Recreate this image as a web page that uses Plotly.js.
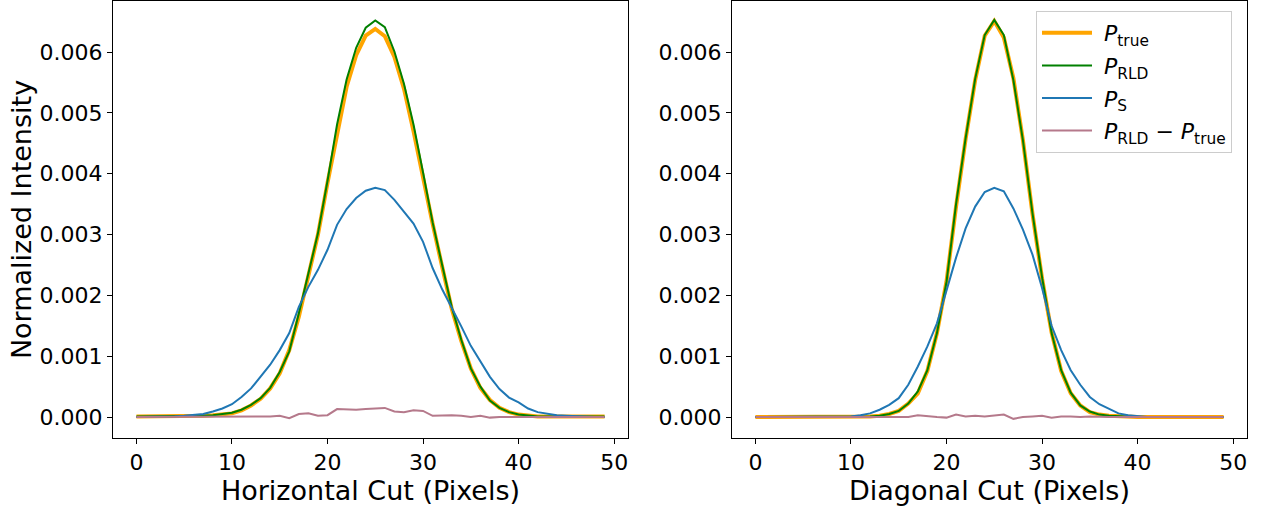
<!DOCTYPE html>
<html>
<head>
<meta charset="utf-8">
<script src="https://cdn.plot.ly/plotly-3.0.1.min.js"></script>
<style>html,body{margin:0;padding:0;background:#fff;}#chart{width:1264px;height:506px;}</style>
</head>
<body>
<div id="chart"></div>
<script>
// pixel index along each cut
const pixels = Array.from({length: 50}, (_, i) => i);

// Horizontal cut
const hTrue = [0.00001,0.00001,0.00001,0.00001,0.00001,0.00001,0.00001,0.00002,0.00003,0.00004,
  0.00006,0.00011,0.00019,0.00030,0.00047,0.00072,0.00110,0.00165,0.00232,0.00300,
  0.00385,0.00468,0.00543,0.00595,0.00627,0.00638,0.00626,0.00592,0.00540,0.00470,
  0.00392,0.00318,0.00247,0.00178,0.00125,0.00080,0.00048,0.00028,0.00015,0.00008,
  0.00004,0.00002,0.00001,0.00001,0.00001,0.00001,0.00001,0.00001,0.00001,0.00001];
const hRLD = [0.00001,0.00001,0.00001,0.00001,0.00001,0.00001,0.00001,0.00002,0.00003,0.00005,
  0.00007,0.00012,0.00020,0.00031,0.00048,0.00074,0.00108,0.00170,0.00238,0.00302,
  0.00388,0.00481,0.00555,0.00607,0.00640,0.00652,0.00641,0.00601,0.00548,0.00481,
  0.00402,0.00320,0.00250,0.00181,0.00127,0.00080,0.00050,0.00027,0.00015,0.00008,
  0.00004,0.00002,0.00001,0.00001,0.00001,0.00001,0.00001,0.00001,0.00001,0.00001];
const hS = [0.00000,0.00000,0.00000,0.00001,0.00001,0.00002,0.00003,0.00005,0.00009,0.00014,
  0.00021,0.00033,0.00047,0.00066,0.00086,0.00110,0.00138,0.00181,0.00214,0.00242,
  0.00275,0.00316,0.00342,0.00360,0.00372,0.00377,0.00373,0.00357,0.00338,0.00318,
  0.00288,0.00245,0.00210,0.00180,0.00149,0.00117,0.00091,0.00066,0.00046,0.00032,
  0.00024,0.00014,0.00008,0.00005,0.00003,0.00002,0.00001,0.00001,0.00000,0.00000];
const hDiff = [0,0,0,0,0,0,0,0,0,0.00001,
  0.00001,0.00001,0.00001,0.00001,0.00001,0.00002,-0.00002,0.00005,0.00006,0.00002,
  0.00003,0.00013,0.00012,0.00012,0.00013,0.00014,0.00015,0.00009,0.00008,0.00011,
  0.00010,0.00002,0.00003,0.00003,0.00002,0.00000,0.00002,-0.00001,0.00000,0.00000,
  0.00000,0.00000,0.00000,0.00000,0.00000,0.00000,0.00000,0.00000,0.00000,0.00000];

// Diagonal cut
const dRLD = [0,0,0,0,0,0,0,0,0,0,
  0.00000,0.00000,0.00001,0.00002,0.00005,0.00010,0.00022,0.00042,0.00077,0.00138,
  0.00222,0.00350,0.00458,0.00556,0.00628,0.00653,0.00628,0.00554,0.00455,0.00335,
  0.00230,0.00138,0.00077,0.00040,0.00019,0.00009,0.00004,0.00002,0.00001,0.00000,
  0,0,0,0,0,0,0,0,0,0];
const dDiff = [0,0,0,0,0,0,0,0,0,0,
  0,0,0,0,0,0,0.00000,0.00003,0.00001,0.00000,
  -0.00001,0.00004,0.00001,0.00002,0.00001,0.00002,0.00004,-0.00003,0.00000,0.00001,
  0.00002,-0.00001,0.00001,0.00001,0.00000,0.00001,0.00000,0,0,0,
  0,0,0,0,0,0,0,0,0,0];
const dTrue = [0,0,0,0,0,0,0,0,0,0,
  0.00000,0.00000,0.00001,0.00002,0.00005,0.00010,0.00022,0.00039,0.00076,0.00138,
  0.00223,0.00346,0.00457,0.00554,0.00627,0.00651,0.00624,0.00557,0.00455,0.00334,
  0.00228,0.00139,0.00076,0.00039,0.00019,0.00008,0.00004,0.00002,0.00001,0.00000,
  0,0,0,0,0,0,0,0,0,0];
const dS = [0,0,0,0,0,0,0,0,0,0.00001,
  0.00001,0.00003,0.00006,0.00012,0.00020,0.00031,0.00053,0.00083,0.00116,0.00154,
  0.00210,0.00262,0.00310,0.00346,0.00370,0.00377,0.00371,0.00343,0.00308,0.00267,
  0.00212,0.00150,0.00110,0.00077,0.00053,0.00033,0.00021,0.00013,0.00006,0.00003,
  0.00001,0,0,0,0,0,0,0,0,0];

const names = ['\u00a0<i>P</i><sub>true</sub>', '\u00a0<i>P</i><sub>RLD</sub>', '\u00a0<i>P</i><sub>S</sub>',
  '\u00a0<i>P</i><sub>RLD</sub> \u2212 <i>P</i><sub>true</sub>'];
const colors = ['#ffa500', '#008000', '#1f77b4', '#b5798b'];
const widths = [4, 2, 2, 2];

function mk(y, k, xa, ya, show) {
  return {x: pixels, y: y, type: 'scatter', mode: 'lines', xaxis: xa, yaxis: ya,
    name: names[k], showlegend: show, legendgroup: 'g' + k,
    line: {color: colors[k], width: widths[k]}};
}

const data = [
  mk(hTrue, 0, 'x', 'y', false), mk(hRLD, 1, 'x', 'y', false), mk(hS, 2, 'x', 'y', false), mk(hDiff, 3, 'x', 'y', false),
  mk(dTrue, 0, 'x2', 'y2', true), mk(dRLD, 1, 'x2', 'y2', true), mk(dS, 2, 'x2', 'y2', true), mk(dDiff, 3, 'x2', 'y2', true)
];

const fontFam = 'DejaVu Sans, sans-serif';
const xTicks = [0, 10, 20, 30, 40, 50];
const yTicks = [0, 0.001, 0.002, 0.003, 0.004, 0.005, 0.006];

function xax(domain, title) {
  return {domain: domain, range: [-2.45, 51.45], showgrid: false, zeroline: false,
    showline: true, mirror: true, linecolor: '#000', linewidth: 1,
    ticks: 'outside', ticklen: 5, tickcolor: '#000', tickvals: xTicks,
    tickfont: {family: fontFam, size: 22, color: '#000'},
    title: {text: title, font: {family: fontFam, size: 27, color: '#000'}, standoff: 0}};
}
function yax(domain, anchor, title) {
  return {domain: domain, anchor: anchor, range: [-0.000345, 0.00684], showgrid: false, zeroline: false,
    showline: true, mirror: true, linecolor: '#000', linewidth: 1,
    ticks: 'outside', ticklen: 5, tickcolor: '#000', tickvals: yTicks, tickformat: '.3f',
    tickfont: {family: fontFam, size: 22, color: '#000'},
    title: {text: title, font: {family: fontFam, size: 27, color: '#000'}, standoff: 0}};
}

const yd = [68/506, 505/506];
const layout = {
  width: 1264, height: 506,
  margin: {l: 0, r: 0, t: 0, b: 0},
  paper_bgcolor: '#fff', plot_bgcolor: '#fff',
  font: {family: fontFam, color: '#000'},
  xaxis: Object.assign(xax([113/1264, 628/1264], 'Horizontal Cut (Pixels)'), {anchor: 'y'}),
  yaxis: yax(yd, 'x', 'Normalized Intensity'),
  xaxis2: Object.assign(xax([732/1264, 1247/1264], 'Diagonal Cut (Pixels)'), {anchor: 'y2'}),
  yaxis2: yax(yd, 'x2', ''),
  showlegend: true,
  legend: {x: 1036/1264, y: 1 - 11/506, xanchor: 'left', yanchor: 'top',
    bgcolor: 'rgba(255,255,255,0.8)', bordercolor: '#cccccc', borderwidth: 1,
    font: {family: fontFam, size: 22, color: '#000'}, itemwidth: 50, tracegroupgap: 1,
    traceorder: 'grouped'}
};

Plotly.newPlot('chart', data, layout, {displayModeBar: false, staticPlot: true});
</script>
</body>
</html>
